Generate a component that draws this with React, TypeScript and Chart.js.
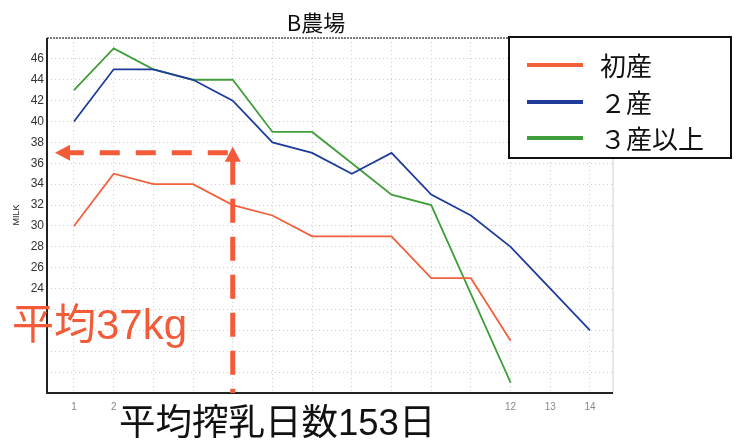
import React, { useEffect, useRef } from "react";
import { Chart, registerables } from "chart.js";
Chart.register(...registerables);

const months = [1, 2, 3, 4, 5, 6, 7, 8, 9, 10, 11, 12, 13, 14];
const xTickLabels = ["1", "2", "", "", "", "", "", "", "", "", "", "12", "13", "14"];
const yTickLabels = [24, 26, 28, 30, 32, 34, 36, 38, 40, 42, 44, 46];
const firstParity = [30, 35, 34, 34, 32, 31, 29, 29, 29, 25, 25, 19];
const secondParity = [40, 45, 45, 44, 42, 38, 37, 35, 37, 33, 31, 28, 24, 20];
const thirdParity = [43, 47, 45, 44, 44, 39, 39, 36, 33, 32, 23.5, 15];
const seriesNames = ["初産", "２産", "３産以上"];
const seriesColors = ["#f2603c", "#1f3c9c", "#3f9e3a"];
const chartTitle = "B農場";
const yAxisTitle = "MILK";
const avgMilkLabel = "平均37kg";
const avgDaysLabel = "平均搾乳日数153日";
const avgMilk = 37;
const avgMonth = 5;

const CJK = '"Noto Sans CJK JP", "Noto Sans", sans-serif';
const MIXED = '"Liberation Sans", "Noto Sans CJK JP", sans-serif';
const ACCENT = "#f25a38";

const toPoints = (vals: number[]) => vals.map((v, i) => ({ x: months[i], y: v }));

const decorPlugin = {
  id: "decor",
  beforeDatasetsDraw(chart: any) {
    const { ctx, chartArea: a } = chart;
    ctx.save();
    ctx.strokeStyle = "#555";
    ctx.lineWidth = 1.5;
    ctx.setLineDash([2, 1]);
    ctx.beginPath();
    ctx.moveTo(a.left, a.top);
    ctx.lineTo(a.right, a.top);
    ctx.stroke();
    ctx.setLineDash([]);
    ctx.strokeStyle = "#cfcfcf";
    ctx.lineWidth = 1;
    ctx.beginPath();
    ctx.moveTo(a.right, a.top);
    ctx.lineTo(a.right, a.bottom);
    ctx.stroke();
    ctx.strokeStyle = "#222";
    ctx.lineWidth = 2;
    ctx.beginPath();
    ctx.moveTo(a.left, a.top);
    ctx.lineTo(a.left, a.bottom);
    ctx.lineTo(a.right, a.bottom);
    ctx.stroke();
    ctx.restore();
  },
  afterDatasetsDraw(chart: any) {
    const { ctx, chartArea: a, scales } = chart;
    const xs = scales.x;
    const ys = scales.y;
    const px = xs.getPixelForValue(avgMonth);
    const py = ys.getPixelForValue(avgMilk);
    ctx.save();
    ctx.strokeStyle = ACCENT;
    ctx.fillStyle = ACCENT;
    ctx.lineWidth = 5;
    ctx.lineCap = "butt";
    const tipX = 55;
    const headLen = 15;
    ctx.setLineDash([20, 16]);
    ctx.beginPath();
    ctx.moveTo(px - 5, py);
    ctx.lineTo(tipX + headLen - 1, py);
    ctx.stroke();
    ctx.setLineDash([]);
    ctx.beginPath();
    ctx.moveTo(tipX, py);
    ctx.lineTo(tipX + headLen, py - 8);
    ctx.lineTo(tipX + headLen, py + 8);
    ctx.closePath();
    ctx.fill();
    const tipY = py - 6;
    ctx.setLineDash([24, 14]);
    ctx.beginPath();
    ctx.moveTo(px, tipY + headLen - 1);
    ctx.lineTo(px, a.bottom);
    ctx.stroke();
    ctx.setLineDash([]);
    ctx.beginPath();
    ctx.moveTo(px, tipY);
    ctx.lineTo(px - 8, tipY + headLen);
    ctx.lineTo(px + 8, tipY + headLen);
    ctx.closePath();
    ctx.fill();

    // legend box
    const bx = 509, by = 37, bw = 222, bh = 121;
    ctx.fillStyle = "#fff";
    ctx.fillRect(bx, by, bw, bh);
    ctx.strokeStyle = "#111";
    ctx.lineWidth = 2;
    ctx.strokeRect(bx, by, bw, bh);
    const rowY = [65, 102, 138];
    ctx.textBaseline = "middle";
    ctx.textAlign = "left";
    ctx.font = `26px ${CJK}`;
    chart.data.datasets.forEach((ds: any, i: number) => {
      ctx.strokeStyle = ds.borderColor;
      ctx.lineWidth = 4;
      ctx.beginPath();
      ctx.moveTo(527, rowY[i]);
      ctx.lineTo(583, rowY[i]);
      ctx.stroke();
      ctx.fillStyle = "#111";
      ctx.fillText(ds.label, 600, rowY[i] + 1);
    });

    // title
    ctx.fillStyle = "#111";
    ctx.textAlign = "center";
    ctx.font = `22px ${CJK}`;
    ctx.fillText(chartTitle, 316, 23);

    // y axis title
    ctx.save();
    ctx.translate(17, 215);
    ctx.rotate(-Math.PI / 2);
    ctx.font = `9px "Liberation Sans", sans-serif`;
    ctx.fillStyle = "#222";
    ctx.textAlign = "center";
    ctx.fillText(yAxisTitle, 0, 0);
    ctx.restore();

    // annotation texts
    ctx.textAlign = "left";
    ctx.fillStyle = ACCENT;
    ctx.font = `42px ${MIXED}`;
    ctx.fillText(avgMilkLabel, 12, 327);
    ctx.fillStyle = "#111";
    ctx.font = `36.5px ${MIXED}`;
    ctx.fillText(avgDaysLabel, 119, 425);
    ctx.restore();
  },
};

export default function App() {
  const ref = useRef<HTMLCanvasElement>(null);
  useEffect(() => {
    if (!ref.current) return;
    const chart = new Chart(ref.current, {
      type: "line",
      data: {
        datasets: [
          { label: seriesNames[0], data: toPoints(firstParity), borderColor: seriesColors[0], borderWidth: 1.8, pointRadius: 0, tension: 0 },
          { label: seriesNames[1], data: toPoints(secondParity), borderColor: seriesColors[1], borderWidth: 1.8, pointRadius: 0, tension: 0 },
          { label: seriesNames[2], data: toPoints(thirdParity), borderColor: seriesColors[2], borderWidth: 1.8, pointRadius: 0, tension: 0 },
        ],
      },
      options: {
        responsive: false,
        animation: false,
        devicePixelRatio: 1,
        layout: { padding: { left: 0, top: 38, right: 121, bottom: 0 } },
        plugins: { legend: { display: false }, title: { display: false }, tooltip: { enabled: false } },
        scales: {
          x: {
            type: "linear",
            min: 0.32,
            max: 14.58,
            afterBuildTicks: (s: any) => {
              s.ticks = months.map((v) => ({ value: v }));
            },
            afterFit: (s: any) => {
              s.height = 52;
            },
            grid: { color: "#cfcfcf", drawTicks: false, lineWidth: 1 },
            border: { display: false, dash: [1, 3] },
            ticks: {
              padding: 8,
              color: "#888",
              maxRotation: 0,
              autoSkip: false,
              font: { size: 10, family: '"Liberation Sans Narrow", "Liberation Sans", sans-serif' },
              callback: (v: any) => {
                const i = months.indexOf(Number(v));
                return i >= 0 ? xTickLabels[i] : "";
              },
            },
          },
          y: {
            min: 14,
            max: 48,
            afterBuildTicks: (s: any) => {
              const t = [];
              for (let v = 14; v <= 48; v += 2) t.push({ value: v });
              s.ticks = t;
            },
            afterFit: (s: any) => {
              s.width = 47;
            },
            grid: { color: "#cfcfcf", drawTicks: false, lineWidth: 1 },
            border: { display: false, dash: [1, 3] },
            ticks: {
              padding: 3,
              color: "#333",
              autoSkip: false,
              font: { size: 12, family: '"Liberation Sans Narrow", "Liberation Sans", sans-serif' },
              callback: (v: any) => (yTickLabels.includes(Number(v)) ? String(v) : ""),
            },
          },
        },
      },
      plugins: [decorPlugin],
    });
    return () => chart.destroy();
  }, []);
  return (
    <div style={{ position: "absolute", left: 0, top: 0, width: 734, height: 445, background: "#fff" }}>
      <canvas ref={ref} width={734} height={445} style={{ display: "block" }} />
    </div>
  );
}
